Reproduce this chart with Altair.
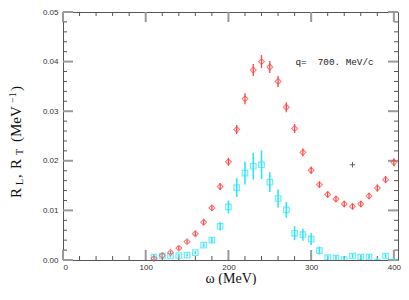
import altair as alt
import pandas as pd

# ---- data ----
omega = [110, 120, 130, 140, 150, 160, 170, 180, 190, 200,
         210, 220, 230, 240, 250, 260, 270, 280, 290, 300,
         310, 320, 330, 340, 350, 360, 370, 380, 390, 400]
RL = [0.0003, 0.0009, 0.0015, 0.0024, 0.0037, 0.0053, 0.0076, 0.0105, 0.0148, 0.0198,
      0.0263, 0.0325, 0.0383, 0.0400, 0.0389, 0.0360, 0.0308, 0.0265, 0.0217, 0.0181,
      0.0152, 0.0132, 0.0123, 0.0113, 0.0108, 0.0113, 0.0129, 0.0145, 0.0162, 0.0197]
RL_err = [0.0003, 0.0003, 0.0003, 0.0004, 0.0004, 0.0005, 0.0005, 0.0006, 0.0007, 0.0008,
          0.0009, 0.0011, 0.0012, 0.0013, 0.0012, 0.0011, 0.0010, 0.0009, 0.0008, 0.0007,
          0.0006, 0.0006, 0.0006, 0.0006, 0.0006, 0.0006, 0.0006, 0.0007, 0.0007, 0.0008]
RT = [0.0006, 0.0008, 0.0008, 0.0009, 0.0010, 0.0015, 0.0030, 0.0040, 0.0068, 0.0107,
      0.0146, 0.0175, 0.0189, 0.0192, 0.0157, 0.0124, 0.0101, 0.0054, 0.0051, 0.0042,
      0.0019, 0.0005, 0.0004, 0.0001, 0.0008, 0.0006, 0.0006, -0.0004, 0.0008, -0.0004]
RT_err = [0.0003, 0.0003, 0.0003, 0.0003, 0.0003, 0.0003, 0.0004, 0.0005, 0.0008, 0.0013,
          0.0019, 0.0023, 0.0027, 0.0029, 0.0020, 0.0018, 0.0016, 0.0014, 0.0012, 0.0012,
          0.0008, 0.0004, 0.0004, 0.0004, 0.0004, 0.0004, 0.0004, 0.0008, 0.0004, 0.0008]
cross_omega = [350]
cross_val = [0.0192]
note_text = ["q=\u00a0\u00a0700.\u00a0MeV/c"]
note_omega = [281]
note_val = [0.0400]

x_major = [0, 100, 200, 300, 400]
x_minor = [v for v in range(20, 400, 20) if v % 100 != 0]
y_major = [0.00, 0.01, 0.02, 0.03, 0.04, 0.05]
y_minor = [round(0.002 * i, 3) for i in range(1, 25) if i % 5 != 0]

TOP = 12      # page y of the plot's top edge
LEFT = 55     # svg x of the plot's left edge
W, H = 335, 248
SVG_W, SVG_H = 393, 277
X_DOM = [0, 405]
Y_DOM = [0, 0.05]
RED = "#ff4646"
CYAN = "#2ee6f6"

df = pd.DataFrame({
    "omega": omega,
    "RL": RL, "RL_lo": [v - e for v, e in zip(RL, RL_err)], "RL_hi": [v + e for v, e in zip(RL, RL_err)],
    "RT": RT, "RT_lo": [v - e for v, e in zip(RT, RT_err)], "RT_hi": [v + e for v, e in zip(RT, RT_err)],
})

xs = alt.Scale(domain=X_DOM, nice=False, zero=False)
ys = alt.Scale(domain=Y_DOM, nice=False, zero=False)

xax = alt.Axis(values=x_major, domain=False, ticks=False, grid=False,
               labelFont="Liberation Sans", labelFontSize=8, labelColor="#333",
               labelPadding=3, title="ω (MeV)", titleFont="Liberation Serif",
               titleFontSize=14, titleFontWeight="normal", titleColor="#111",
               titleBaseline="middle", titleY=18)
yax = alt.Axis(values=y_major, format=".2f", domain=False, ticks=False, grid=False,
               labelFont="Liberation Sans", labelFontSize=8, labelColor="#333",
               labelPadding=5, title=None)

base = alt.Chart(df)
X = alt.X("omega:Q", scale=xs, axis=xax)

rl_err = base.mark_rule(color=RED, strokeWidth=1.3).encode(
    x=X, y=alt.Y("RL_lo:Q", scale=ys, axis=yax), y2="RL_hi:Q")
rl_pts = base.mark_point(shape="diamond", filled=False, color=RED, size=34, strokeWidth=1.1).encode(
    x=X, y=alt.Y("RL:Q", scale=ys, axis=yax))
rt_err = base.mark_rule(color=CYAN, strokeWidth=1.6, clip=True).encode(
    x=X, y=alt.Y("RT_lo:Q", scale=ys, axis=yax), y2="RT_hi:Q")
rt_pts = base.mark_point(shape="square", filled=False, color=CYAN, size=30, strokeWidth=1.2, clip=True).encode(
    x=X, y=alt.Y("RT:Q", scale=ys, axis=yax))

cross = alt.Chart(pd.DataFrame({"omega": cross_omega, "v": cross_val})).mark_point(
    shape="M-1,0H1M0,-1V1", filled=False, color="#222", size=30, strokeWidth=1).encode(
    x=X, y=alt.Y("v:Q", scale=ys, axis=yax))

note = alt.Chart(pd.DataFrame({"omega": note_omega, "v": note_val, "txt": note_text})).mark_text(
    align="left", baseline="middle", font="Liberation Mono", fontSize=9.3, color="#222").encode(
    x=X, y=alt.Y("v:Q", scale=ys, axis=yax), text="txt:N")

# inward ticks on all four sides: segments built from the tick values, lengths in pixels
px_x = (X_DOM[1] - X_DOM[0]) / W
px_y = (Y_DOM[1] - Y_DOM[0]) / H

def tick_frame(xv, yv, length):
    rows = []
    ly, lx = length * px_y, length * px_x
    for v in xv:
        rows.append((v, v, Y_DOM[0], Y_DOM[0] + ly))
        rows.append((v, v, Y_DOM[1], Y_DOM[1] - ly))
    for v in yv:
        rows.append((X_DOM[0], X_DOM[0] + lx, v, v))
        rows.append((X_DOM[1], X_DOM[1] - lx, v, v))
    return pd.DataFrame(rows, columns=["xa", "xb", "ya", "yb"])

minor_ticks = alt.Chart(tick_frame(x_minor, y_minor, 4)).mark_rule(
    color="#555555", strokeWidth=1).encode(
    x=alt.X("xa:Q", scale=xs, axis=xax), x2="xb:Q",
    y=alt.Y("ya:Q", scale=ys, axis=yax), y2="yb:Q")
major_ticks = alt.Chart(tick_frame(x_major, y_major, 10)).mark_rule(
    color="#9a9a9a", strokeWidth=2).encode(
    x=alt.X("xa:Q", scale=xs, axis=xax), x2="xb:Q",
    y=alt.Y("ya:Q", scale=ys, axis=yax), y2="yb:Q")

# y-axis title built from pieces (subscripts / superscript); page coordinates
title_pieces = [
    ("R", 15, 16, 198), ("L", 10, 20, 185), (",", 15, 16, 178),
    ("R", 15, 16, 169), ("T", 10, 20, 155), ("(MeV", 15, 16, 142),
    ("−1", 10, 13, 103), (")", 15, 16, 91),
]
title_layers = []
for txt, fs, px, py in title_pieces:
    title_layers.append(
        alt.Chart(pd.DataFrame({"s": [txt]})).mark_text(
            align="left", baseline="middle", angle=270, font="Liberation Serif",
            fontSize=fs, color="#111").encode(
            text="s:N", x=alt.value(px - 8 - LEFT), y=alt.value(py - TOP)))

chart = alt.layer(
    minor_ticks, major_ticks, rl_err, rt_err, rt_pts, rl_pts, cross, note, *title_layers
).properties(
    width=W, height=H,
    autosize=alt.AutoSizeParams(type="none"),
    padding={"left": LEFT, "top": TOP - 8, "right": SVG_W - LEFT - W, "bottom": SVG_H - (TOP - 8) - H},
).configure_view(stroke="#555555", strokeWidth=1)

chart.save("out.html", embed_options={"renderer": "svg", "actions": False})
